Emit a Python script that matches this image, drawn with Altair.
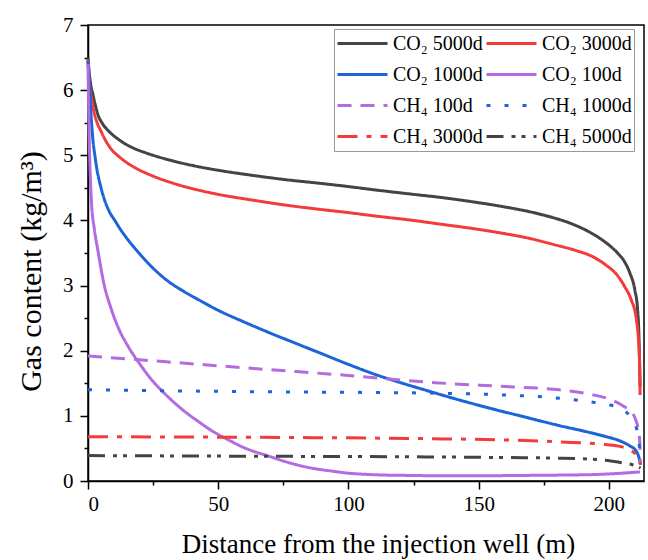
import altair as alt
import pandas as pd

series_names = ["CO₂ 5000d", "CO₂ 3000d", "CO₂ 1000d", "CO₂ 100d",
                "CH₄ 100d", "CH₄ 1000d", "CH₄ 3000d", "CH₄ 5000d"]
series_colors = ["#444444", "#F43B3B", "#1C64D8", "#B36BE0",
                 "#B36BE0", "#1C64D8", "#F43B3B", "#444444"]
series_dash = [[1, 0], [1, 0], [1, 0], [1, 0],
               [14, 9], [4, 14], [20, 9, 5, 9], [17, 8, 4, 6, 4, 8]]

co2_5000_x = [0, 0.5, 1, 1.9, 3, 3.85, 5.5, 7.7, 9.3, 12.2, 14.1, 18, 22, 25, 32, 43, 50, 63.5, 75, 89,
              100, 112, 125, 134, 147, 159.6, 170, 178.8, 185, 191.7, 196, 200.7, 203.6, 205.8, 208,
              210, 211, 211.5, 212]
co2_5000_y = [6.5, 6.25, 6.1, 5.93, 5.74, 5.62, 5.49, 5.38, 5.32, 5.23, 5.18, 5.1, 5.04, 5.0, 4.92, 4.82,
              4.77, 4.69, 4.63, 4.57, 4.52, 4.46, 4.40, 4.36, 4.29, 4.21, 4.13, 4.04, 3.96, 3.84, 3.74,
              3.60, 3.49, 3.38, 3.2, 2.93, 2.65, 2.3, 1.45]

co2_3000_x = [0, 0.5, 1, 1.9, 3, 5.1, 7, 9, 12.2, 14.1, 18, 25, 32, 43, 50, 63.5, 75, 89, 100, 112,
              125, 134, 147, 159.6, 170, 178.8, 187.2, 194, 198.7, 203.6, 206, 208.6, 210.5, 211.3,
              211.8, 212]
co2_3000_y = [6.47, 6.1, 5.95, 5.74, 5.56, 5.36, 5.21, 5.09, 4.97, 4.91, 4.81, 4.68, 4.58, 4.46, 4.40,
              4.31, 4.24, 4.17, 4.12, 4.06, 4.00, 3.95, 3.88, 3.80, 3.72, 3.63, 3.54, 3.44, 3.32, 3.14,
              2.99, 2.78, 2.5, 2.21, 1.8, 1.32]

co2_1000_x = [0, 0.3, 0.65, 1.2, 1.9, 2.7, 3.5, 5, 6.4, 8, 10.3, 12.5, 15.4, 20, 24.4, 30, 37.2, 43,
              50, 60, 70, 80, 90, 100, 110, 120, 130, 142, 155, 168, 181, 191, 199, 204, 208, 210.5,
              211.5, 212.2]
co2_1000_y = [6.45, 6.25, 6.0, 5.6, 5.23, 4.98, 4.77, 4.5, 4.31, 4.15, 4.0, 3.86, 3.7, 3.48, 3.29,
              3.09, 2.90, 2.77, 2.62, 2.44, 2.27, 2.11, 1.95, 1.79, 1.64, 1.51, 1.39, 1.25, 1.11, 0.98,
              0.85, 0.76, 0.68, 0.62, 0.54, 0.46, 0.37, 0.25]

co2_100_x = [0, 0.3, 0.7, 1.3, 2.5, 3.8, 6, 9.1, 12, 15.5, 20, 24.5, 29, 33.5, 38, 42.5, 48, 54, 60,
             64, 68, 75.6, 81, 87, 94, 100, 108, 115, 125, 133, 150, 165, 180, 195, 205, 212]
co2_100_y = [6.4, 5.6, 4.9, 4.31, 3.85, 3.54, 3.05, 2.62, 2.32, 2.06, 1.79, 1.55, 1.36, 1.19, 1.04,
             0.91, 0.76, 0.63, 0.51, 0.45, 0.40, 0.30, 0.24, 0.19, 0.15, 0.12, 0.10, 0.09, 0.085,
             0.08, 0.08, 0.085, 0.09, 0.10, 0.12, 0.14]

ch4_100_x = [0, 30, 66, 100, 133, 160, 181, 193, 200, 206, 208.5, 210.3, 211.7, 212.2]
ch4_100_y = [1.92, 1.83, 1.72, 1.62, 1.51, 1.45, 1.40, 1.33, 1.26, 1.14, 1.07, 0.94, 0.7, 0.25]

ch4_1000_x = [0, 66, 130, 160, 181, 198, 204.5, 208, 210.3, 211.5, 212.2]
ch4_1000_y = [1.40, 1.37, 1.35, 1.32, 1.27, 1.18, 1.12, 1.0, 0.85, 0.63, 0.3]

ch4_3000_x = [0, 66, 130, 160, 181, 198.7, 204.5, 208.5, 210.5, 212.2]
ch4_3000_y = [0.68, 0.67, 0.65, 0.63, 0.60, 0.56, 0.53, 0.47, 0.40, 0.25]

ch4_5000_x = [0, 66, 130, 160, 181, 198.7, 205, 209, 212.2]
ch4_5000_y = [0.39, 0.38, 0.37, 0.36, 0.35, 0.32, 0.28, 0.25, 0.20]

x_major = [0, 50, 100, 150, 200]
x_minor = [25, 75, 125, 175]
y_major = [0, 1, 2, 3, 4, 5, 6, 7]
y_minor = [0.5, 1.5, 2.5, 3.5, 4.5, 5.5, 6.5]

all_x = [co2_5000_x, co2_3000_x, co2_1000_x, co2_100_x, ch4_100_x, ch4_1000_x, ch4_3000_x, ch4_5000_x]
all_y = [co2_5000_y, co2_3000_y, co2_1000_y, co2_100_y, ch4_100_y, ch4_1000_y, ch4_3000_y, ch4_5000_y]

rows = []
for name, xs, ys in zip(series_names, all_x, all_y):
    for i, (xv, yv) in enumerate(zip(xs, ys)):
        rows.append({"series": name, "x": xv, "y": yv, "i": i})
df = pd.DataFrame(rows)

FONT = "Liberation Serif"
xdom = [0, 213.5]
ydom = [0, 7]

legend = alt.Legend(
    title=None, orient="none", legendX=246, legendY=4, columns=2, direction="horizontal",
    symbolType="stroke", symbolSize=2500, symbolStrokeWidth=3,
    labelFont=FONT, labelFontSize=20, labelColor="black", labelOffset=4,
    columnPadding=2, rowPadding=6, padding=2, clipHeight=25,
    strokeColor="#999999", fillColor="white", labelLimit=200,
)

lines = alt.Chart(df).mark_line(strokeWidth=3, interpolate="monotone").encode(
    x=alt.X("x:Q", scale=alt.Scale(domain=xdom, nice=False, zero=False),
            axis=alt.Axis(values=x_major, title="Distance from the injection well (m)",
                          tickSize=8, labelPadding=4, titlePadding=17, titleX=290, format="d")),
    y=alt.Y("y:Q", scale=alt.Scale(domain=ydom, nice=False),
            axis=alt.Axis(values=y_major, title="Gas content (kg/m³)", titleFontSize=30,
                          titleY=246, tickSize=8, labelPadding=7, titlePadding=16, format="d")),
    color=alt.Color("series:N", scale=alt.Scale(domain=series_names, range=series_colors), legend=legend),
    strokeDash=alt.StrokeDash("series:N", scale=alt.Scale(domain=series_names, range=series_dash), legend=legend),
    order="i:Q",
)

minor = alt.Chart(df).mark_point(opacity=0).encode(
    x=alt.X("x:Q", scale=alt.Scale(domain=xdom, nice=False, zero=False),
            axis=alt.Axis(values=x_minor, labels=False, tickSize=4, domain=False, grid=False,
                          title=None, orient="bottom")),
    y=alt.Y("y:Q", scale=alt.Scale(domain=ydom, nice=False),
            axis=alt.Axis(values=y_minor, labels=False, tickSize=4, domain=False, grid=False,
                          title=None, orient="left")),
)

chart = alt.layer(lines, minor).resolve_scale(x="independent", y="independent").resolve_axis(
    x="independent", y="independent"
).properties(
    width=556, height=456,
    autosize=alt.AutoSizeParams(type="none"),
    padding={"left": 88, "top": 25, "right": 4, "bottom": 79},
).configure_view(
    stroke="black", strokeWidth=1.5
).configure_axis(
    grid=False, domainColor="black", domainWidth=1.5, tickColor="black", tickWidth=1.5,
    labelFont=FONT, labelFontSize=21, labelColor="black",
    titleFont=FONT, titleFontSize=27, titleFontWeight="normal", titleColor="black",
)

chart.save("out.html", embed_options={"renderer": "svg", "actions": False})
